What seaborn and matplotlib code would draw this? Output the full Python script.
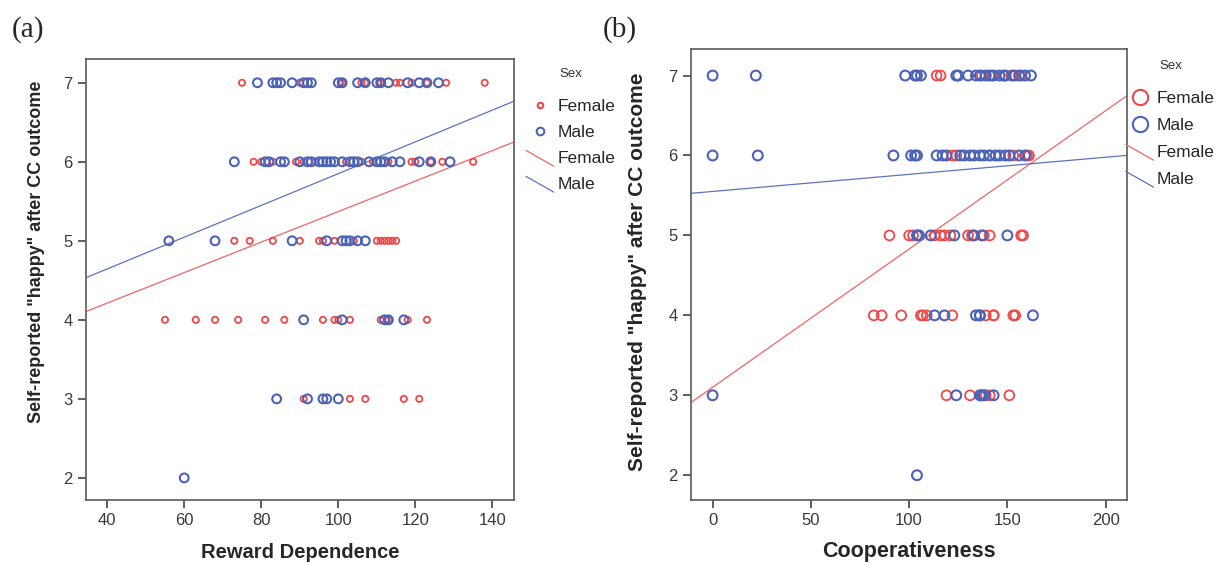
import numpy as np
import pandas as pd
import matplotlib
matplotlib.use("Agg")
import matplotlib.pyplot as plt
import seaborn as sns
from matplotlib.lines import Line2D
from matplotlib.legend_handler import HandlerBase

# ==========================================
# DATA
# ==========================================

# panel (a): Reward Dependence vs happy rating
a_fem_x = [75, 90, 101, 106, 107, 111, 115, 116, 119, 123, 128, 138,
           78, 80, 83, 89, 91, 94, 102, 106, 109, 113, 119, 120, 124, 127, 135,
           73, 77, 83, 90, 95, 96, 99, 104, 110, 111, 112, 113, 114, 115,
           55, 63, 68, 74, 81, 86, 96, 99, 100, 103, 111, 113, 118, 123,
           91, 103, 107, 117, 121]
a_fem_y = [7] * 12 + [6] * 15 + [5] * 14 + [4] * 14 + [3] * 5

a_male_x = [79, 83, 84, 85, 88, 91, 92, 93, 100, 101, 105, 107, 110, 111, 113, 118, 121, 123, 126,
            73, 81, 82, 85, 86, 90, 92, 93, 95, 96, 97, 98, 99, 101, 103, 104, 105, 108, 110,
            111, 112, 114, 116, 121, 124, 129,
            56, 68, 88, 97, 101, 102, 103, 105, 107,
            91, 101, 112, 113, 117,
            84, 92, 96, 97, 100,
            60]
a_male_y = [7] * 19 + [6] * 26 + [5] * 9 + [4] * 5 + [3] * 5 + [2]

# panel (b): Cooperativeness vs happy rating
b_fem_x = [114, 116, 137, 142, 152, 154, 157,
           122, 124, 141, 153, 160, 161,
           90, 100, 102, 113, 116, 118, 121, 130, 132, 138, 141, 157, 158,
           82, 86, 96, 106, 107, 109, 122, 139, 143, 143, 153, 154,
           119, 131, 139, 141, 151]
b_fem_y = [7] * 7 + [6] * 6 + [5] * 13 + [4] * 12 + [3] * 5

b_male_x = [0, 22, 98, 103, 104, 106, 124, 125, 130, 134, 136, 139, 141, 143, 146, 148, 149,
            153, 156, 159, 162,
            0, 23, 92, 101, 103, 104, 114, 117, 119, 126, 128, 131, 133, 136, 138, 141, 144,
            146, 149, 151, 156, 159,
            104, 105, 111, 123, 133, 137, 150,
            113, 118, 134, 136, 136, 163,
            0, 124, 136, 137, 138, 143,
            104]
b_male_y = [7] * 21 + [6] * 22 + [5] * 7 + [4] * 6 + [3] * 6 + [2]

# fit lines (intercept, slope) as drawn in the figure
a_fit_fem = (3.44, 0.0193)
a_fit_male = (3.84, 0.0201)
b_fit_fem = (3.10, 0.0173)
b_fit_male = (5.55, 0.00214)

sex_labels = ["Female", "Male"]
y_ticks = [2, 3, 4, 5, 6, 7]
a_xticks = [40, 60, 80, 100, 120, 140]
b_xticks = [0, 50, 100, 150, 200]

RED = "#EF4747"
BLUE = "#4A63B7"
RED_LINE = "#F26464"
BLUE_LINE = "#5C72C2"

# ==========================================
# STYLE
# ==========================================

sns.set_style("ticks")
plt.rcParams["font.family"] = ["Liberation Sans", "DejaVu Sans"]


class DiagonalLine(HandlerBase):
    # SPSS-style legend key: a short descending line
    def create_artists(self, legend, orig_handle, xdescent, ydescent, width,
                       height, fontsize, trans):
        ln = Line2D([-xdescent, -xdescent + width],
                    [-ydescent + height * 1.05, -ydescent - height * 0.25],
                    color=orig_handle.get_color(), lw=orig_handle.get_linewidth())
        ln.set_transform(trans)
        return [ln]


fig = plt.figure(figsize=(12.18, 5.65), dpi=100)
ax_a = fig.add_axes([0.0706, 0.115, 0.3514, 0.7805])
ax_b = fig.add_axes([0.567, 0.115, 0.358, 0.798])


def draw_panel(ax, fx, fy, mx, my, fit_f, fit_m, xlim, ylim, xticks, xlabel,
               s_f, s_m, leg_ms_f, leg_ms_m, lab_size, xlab_size, xlab_pad, ylab_pos,
               leg_anchor, leg_space, sex_pos):
    sns.scatterplot(x=fx, y=fy, ax=ax, s=s_f, facecolors="none", edgecolor=RED,
                    linewidth=1.3, legend=False, zorder=3)
    sns.scatterplot(x=mx, y=my, ax=ax, s=s_m, facecolors="none", edgecolor=BLUE,
                    linewidth=1.5, legend=False, zorder=3)

    xs = np.array(xlim)
    sns.lineplot(x=xs, y=fit_f[0] + fit_f[1] * xs, ax=ax, color=RED_LINE, lw=0.9)
    sns.lineplot(x=xs, y=fit_m[0] + fit_m[1] * xs, ax=ax, color=BLUE_LINE, lw=0.9)

    ax.set_xlim(xlim)
    ax.set_ylim(ylim)
    ax.set_xticks(xticks)
    ax.set_yticks(y_ticks)
    ax.tick_params(axis="both", length=6, width=1.2, color="#444444",
                   labelsize=12, labelcolor="#3a3a3a", direction="out")
    for sp in ax.spines.values():
        sp.set_visible(True)
        sp.set_color("#5a5a5a")
        sp.set_linewidth(1.2)
    ax.set_xlabel(xlabel, fontsize=xlab_size, fontweight="bold", labelpad=xlab_pad)
    ax.set_ylabel('Self-reported "happy" after CC outcome', fontsize=lab_size,
                  fontweight="bold")
    ax.yaxis.set_label_coords(*ylab_pos)

    line_f = Line2D([], [], color=RED_LINE, lw=0.9)
    line_m = Line2D([], [], color=BLUE_LINE, lw=0.9)
    handles = [
        Line2D([], [], ls="none", marker="o", mfc="none", mec=RED, ms=leg_ms_f, mew=1.5),
        Line2D([], [], ls="none", marker="o", mfc="none", mec=BLUE, ms=leg_ms_m, mew=1.5),
        line_f,
        line_m,
    ]
    ax.legend(handles, sex_labels + sex_labels, loc="upper left",
              bbox_to_anchor=leg_anchor, frameon=False, fontsize=12.5,
              labelspacing=leg_space, handlelength=1.6, handletextpad=0.2,
              borderaxespad=0, borderpad=0,
              handler_map={line_f: DiagonalLine(), line_m: DiagonalLine()})
    ax.text(sex_pos[0], sex_pos[1], "Sex", transform=ax.transAxes, fontsize=9.5,
            color="#333333", va="center", ha="left")


draw_panel(ax_a, a_fem_x, a_fem_y, a_male_x, a_male_y, a_fit_fem, a_fit_male,
           (34.5, 145.6), (1.72, 7.30), a_xticks, "Reward Dependence",
           s_f=20, s_m=40, leg_ms_f=4, leg_ms_m=5.5, lab_size=13, xlab_size=14.5,
           xlab_pad=11, ylab_pos=(-0.096, 0.562), leg_anchor=(1.028, 0.909),
           leg_space=0.62, sex_pos=(1.107, 0.965))
draw_panel(ax_b, b_fem_x, b_fem_y, b_male_x, b_male_y, b_fit_fem, b_fit_male,
           (-11.2, 210.7), (1.69, 7.33), b_xticks, "Cooperativeness",
           s_f=50, s_m=50, leg_ms_f=11, leg_ms_m=11, lab_size=15, xlab_size=15.5,
           xlab_pad=9, ylab_pos=(-0.099, 0.506), leg_anchor=(0.998, 0.907),
           leg_space=0.68, sex_pos=(1.076, 0.962))

fig.text(0.010, 0.972, "(a)", fontsize=21, family=["Liberation Serif", "DejaVu Serif"], va="top")
fig.text(0.495, 0.972, "(b)", fontsize=21, family=["Liberation Serif", "DejaVu Serif"], va="top")

fig.savefig("out.png", dpi=100)
